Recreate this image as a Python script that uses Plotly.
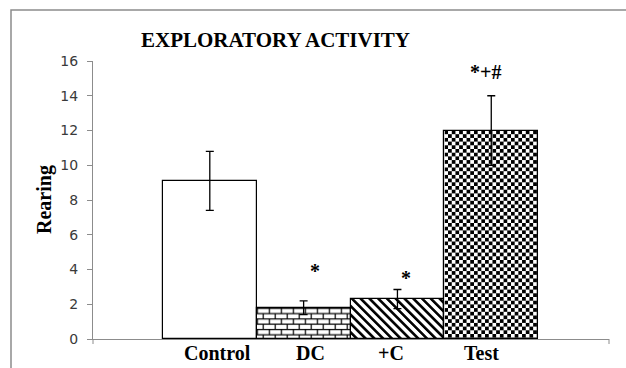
import base64
import plotly.graph_objects as go

# ---- data -------------------------------------------------------------
categories = ["Control", "DC", "+C", "Test"]
rearing_mean = [9.1, 1.8, 2.3, 12.0]
rearing_err = [1.7, 0.4, 0.55, 2.0]
significance = ["", "*", "*", "*+#"]
y_ticks = [0, 2, 4, 6, 8, 10, 12, 14, 16]

# ---- geometry / style -------------------------------------------------
W, H = 626, 368
M_L, M_R, M_T, M_B = 93, 17, 61, 29
PLOT_W = W - M_L - M_R
PLOT_H = H - M_T - M_B
X_RANGE = [-1.245, 4.255]
Y_RANGE = [0, 16]
PX_PER_X = PLOT_W / (X_RANGE[1] - X_RANGE[0])
PX_PER_Y = PLOT_H / (Y_RANGE[1] - Y_RANGE[0])

SERIF = "Liberation Serif, Times New Roman, serif"
AXIS_GREY = "#8c8c8c"

xs = list(range(len(categories)))


def svg_uri(svg):
    return "data:image/svg+xml;base64," + base64.b64encode(svg.encode()).decode()


def _wrap(w, h, pattern_id, pattern_body):
    return (
        f'<svg xmlns="http://www.w3.org/2000/svg" width="{w:.1f}" height="{h:.1f}" '
        f'viewBox="0 0 {w:.1f} {h:.1f}" preserveAspectRatio="none">'
        f'<defs>{pattern_body}</defs>'
        f'<rect width="{w:.1f}" height="{h:.1f}" fill="url(#{pattern_id})"/></svg>'
    )


def brick_svg(w, h):
    body = (
        '<pattern id="b" patternUnits="userSpaceOnUse" width="12" height="10.6">'
        '<rect width="12" height="10.6" fill="white"/>'
        '<path d="M0 0.6H12 M0 5.9H12 M0.6 0V5.9 M6.6 5.9V10.6" '
        'stroke="black" stroke-width="1.2" fill="none"/>'
        '</pattern>'
    )
    return _wrap(w, h, "b", body)


def stripe_svg(w, h):
    body = (
        '<pattern id="s" patternUnits="userSpaceOnUse" width="6.2" height="6.2" '
        'patternTransform="rotate(-45)">'
        '<rect width="6.2" height="6.2" fill="white"/>'
        '<rect width="2.6" height="6.2" fill="black"/>'
        '</pattern>'
    )
    return _wrap(w, h, "s", body)


def checker_svg(w, h):
    body = (
        '<pattern id="c" patternUnits="userSpaceOnUse" width="7.4" height="7.4">'
        '<rect width="7.4" height="7.4" fill="white"/>'
        '<rect width="3.7" height="3.7" fill="black"/>'
        '<rect x="3.7" y="3.7" width="3.7" height="3.7" fill="black"/>'
        '</pattern>'
    )
    return _wrap(w, h, "c", body)


# fill textures per bar: plain, brick, diagonal hatch, checkerboard
bar_fill = ["white", "rgba(0,0,0,0)", "rgba(0,0,0,0)", "rgba(0,0,0,0)"]
image_texture = [None, brick_svg, stripe_svg, checker_svg]

fig = go.Figure()
fig.add_trace(
    go.Bar(
        x=xs,
        y=rearing_mean,
        width=1.0,
        marker=dict(color=bar_fill, line=dict(color="black", width=1.2)),
        error_y=dict(
            type="data",
            array=rearing_err,
            color="black",
            thickness=1.3,
            width=4,
        ),
        showlegend=False,
        hoverinfo="skip",
    )
)

# textured bar interiors, sized from each bar's own value
images = []
for x, v, tex in zip(xs, rearing_mean, image_texture):
    if tex is None:
        continue
    svg = tex(PX_PER_X * 1.0, v * PX_PER_Y)
    images.append(
        dict(
            source=svg_uri(svg),
            xref="x", yref="y",
            x=x - 0.5, y=v,
            sizex=1.0, sizey=v,
            xanchor="left", yanchor="top",
            sizing="stretch",
            layer="below",
        )
    )

annotations = []

# chart title
annotations.append(
    dict(
        text="EXPLORATORY ACTIVITY",
        xref="paper", yref="paper",
        x=(275 - M_L) / PLOT_W, y=1 + 21 / PLOT_H,
        xanchor="center", yanchor="middle",
        showarrow=False,
        font=dict(family=SERIF, size=21, color="black", weight="bold"),
    )
)

# y-axis title
annotations.append(
    dict(
        text="Rearing",
        xref="paper", yref="paper",
        x=(44 - M_L) / PLOT_W, y=0.5,
        xanchor="center", yanchor="middle",
        textangle=-90,
        showarrow=False,
        font=dict(family=SERIF, size=20, color="black", weight="bold"),
    )
)

# category labels under the bars
label_shift = [8, 7, -6, -10]
for x, name, dx in zip(xs, categories, label_shift):
    annotations.append(
        dict(
            text=name,
            xref="x", yref="paper",
            x=x, y=-14 / PLOT_H,
            xshift=dx,
            xanchor="center", yanchor="middle",
            showarrow=False,
            font=dict(family=SERIF, size=20, color="black", weight="bold"),
        )
    )

# significance markers above error bars
sig_dx = [0, 11, 9, -6]
sig_dy = [0, 17, -2, 11]
for x, m, e, s, dx, dy in zip(xs, rearing_mean, rearing_err, significance, sig_dx, sig_dy):
    if not s:
        continue
    annotations.append(
        dict(
            text=s,
            xref="x", yref="y",
            x=x, y=m + e,
            xshift=dx, yshift=dy,
            xanchor="center", yanchor="bottom",
            showarrow=False,
            font=dict(family=SERIF, size=20, color="black", weight="bold"),
        )
    )

shapes = [
    # outer chart frame
    dict(
        type="rect", xref="paper", yref="paper",
        x0=(11 - M_L) / PLOT_W, x1=(W + 20 - M_L) / PLOT_W,
        y0=-(H + 20 - M_T - PLOT_H) / PLOT_H, y1=1 + (M_T - 10) / PLOT_H,
        line=dict(color=AXIS_GREY, width=1.5),
        fillcolor="rgba(0,0,0,0)",
        layer="below",
    ),
    # category-axis boundary ticks
    dict(type="line", xref="paper", yref="paper", x0=0, x1=0,
         y0=0, y1=-5 / PLOT_H, line=dict(color=AXIS_GREY, width=1)),
    dict(type="line", xref="paper", yref="paper", x0=1, x1=1,
         y0=0, y1=-5 / PLOT_H, line=dict(color=AXIS_GREY, width=1)),
]

fig.update_layout(
    width=W,
    height=H,
    margin=dict(l=M_L, r=M_R, t=M_T, b=M_B, pad=0),
    paper_bgcolor="white",
    plot_bgcolor="white",
    bargap=0,
    showlegend=False,
    images=images,
    annotations=annotations,
    shapes=shapes,
    xaxis=dict(
        range=X_RANGE,
        showline=True, linecolor=AXIS_GREY, linewidth=1,
        showticklabels=False, ticks="",
        showgrid=False, zeroline=False,
        fixedrange=True,
    ),
    yaxis=dict(
        range=Y_RANGE,
        tickvals=y_ticks,
        showline=True, linecolor=AXIS_GREY, linewidth=1,
        ticks="outside", ticklen=5, tickcolor=AXIS_GREY, tickwidth=1,
        tickfont=dict(family="DejaVu Sans", size=14, color="#3a3a3a"),
        ticklabelstandoff=6,
        showgrid=False, zeroline=False,
        fixedrange=True,
    ),
)

fig.write_html("out.html")
